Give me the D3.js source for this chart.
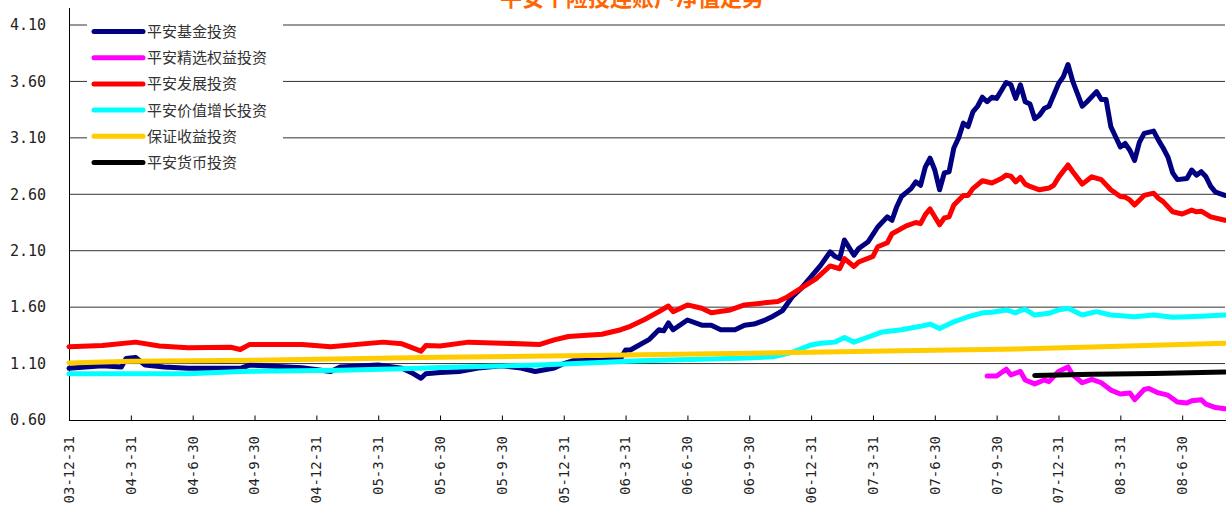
<!DOCTYPE html>
<html lang="zh">
<head>
<meta charset="UTF-8">
<title>平安个险投连账户净值走势</title>
<style>
  body { margin: 0; background: #fff; }
  #chart { display: block; }
  .legend text { font-family: "Noto Sans CJK SC", sans-serif; font-size: 15px; fill: #333; }
  .ylab { font-family: "DejaVu Sans Mono", monospace; font-size: 15px; fill: #222; }
  .xlab { font-family: "DejaVu Sans Mono", monospace; font-size: 14px; fill: #222; }
  .title { font-family: "Noto Sans CJK SC", sans-serif; font-size: 22px; font-weight: bold; fill: #ff6600; }
</style>
</head>
<body>
<svg id="chart"></svg>
<script src="https://d3js.org/d3.v7.min.js"></script>
<script>
// weekly index (0 = 03-12-31), one tick label every 13 weeks
const tickLabels = ["03-12-31","04-3-31","04-6-30","04-9-30","04-12-31","05-3-31","05-6-30","05-9-30",
  "05-12-31","06-3-31","06-6-30","06-9-30","06-12-31","07-3-31","07-6-30","07-9-30","07-12-31","08-3-31","08-6-30"];
const yTicks = [0.6, 1.1, 1.6, 2.1, 2.6, 3.1, 3.6, 4.1];

const seriesNames = ["平安基金投资","平安精选权益投资","平安发展投资","平安价值增长投资","保证收益投资","平安货币投资"];
const seriesColors = ["#000080","#ff00ff","#ff0000","#00ffff","#ffcc00","#000000"];

// [week, nav]
const fundJJ = [[0,1.058],[7,1.08],[11,1.07],[12,1.146],[14,1.155],[16,1.087],[20,1.07],[25,1.058],[36,1.058],
  [38,1.087],[49,1.063],[55,1.03],[57,1.07],[65,1.087],[70,1.058],[72,1.02],[74,0.97],[75,1.01],[78,1.02],
  [82,1.03],[86,1.06],[91,1.08],[95,1.06],[98,1.03],[102,1.06],[104,1.10],[106,1.125],[112,1.13],[116,1.147],
  [117,1.22],[118,1.22],[122,1.315],[124,1.40],[125,1.39],[126,1.46],[127,1.40],[130,1.486],[133,1.44],
  [135,1.44],[137,1.40],[140,1.40],[142,1.44],[144,1.45],[146,1.48],[148,1.52],[150,1.57],[152,1.69],
  [154,1.77],[156,1.87],[158,1.97],[160,2.09],[161,2.05],[162,2.03],[163,2.195],[165,2.06],[166,2.12],
  [168,2.18],[170,2.31],[172,2.40],[173,2.37],[174,2.49],[175,2.58],[177,2.65],[178,2.71],[179,2.68],
  [180,2.84],[181,2.92],[182,2.815],[183,2.64],[184,2.79],[185,2.80],[186,3.01],[187,3.10],[188,3.23],
  [189,3.20],[190,3.33],[191,3.38],[192,3.46],[193,3.42],[194,3.46],[195,3.45],[196,3.52],[197,3.59],
  [198,3.57],[199,3.45],[200,3.57],[201,3.42],[202,3.40],[203,3.27],[204,3.30],[205,3.36],[206,3.38],
  [208,3.58],[209,3.64],[210,3.75],[211,3.60],[212,3.49],[213,3.38],[214,3.42],[216,3.51],[217,3.44],
  [218,3.44],[219,3.20],[220,3.11],[221,3.02],[222,3.05],[223,2.99],[224,2.90],[225,3.06],[226,3.14],
  [228,3.16],[229,3.08],[230,3.01],[231,2.93],[232,2.79],[233,2.73],[235,2.74],[236,2.815],[237,2.77],
  [238,2.80],[239,2.755],[240,2.67],[241,2.62],[243,2.59]];
const fundJX = [[193,0.99],[195,0.99],[197,1.05],[198,1.00],[200,1.03],[201,0.955],[203,0.92],[205,0.955],
  [206,0.94],[208,1.03],[210,1.07],[211,1.00],[213,0.93],[215,0.96],[217,0.93],[219,0.865],[221,0.83],
  [223,0.84],[224,0.78],[226,0.87],[227,0.88],[229,0.84],[231,0.82],[233,0.76],[235,0.75],[236,0.77],
  [238,0.78],[239,0.74],[241,0.71],[243,0.70]];
const fundFZ = [[0,1.25],[7,1.26],[14,1.29],[19,1.255],[25,1.24],[34,1.245],[36,1.225],[38,1.27],[49,1.27],
  [55,1.25],[66,1.29],[70,1.275],[74,1.21],[75,1.26],[78,1.255],[84,1.29],[99,1.27],[102,1.31],[105,1.34],
  [112,1.36],[116,1.40],[118,1.43],[121,1.49],[124,1.56],[126,1.61],[127,1.56],[130,1.62],[133,1.59],
  [135,1.55],[139,1.575],[142,1.62],[149,1.65],[151,1.69],[154,1.77],[157,1.85],[160,1.965],[162,1.94],
  [163,2.03],[165,1.96],[166,2.00],[169,2.05],[170,2.135],[172,2.17],[173,2.25],[176,2.32],[178,2.35],
  [179,2.34],[180,2.42],[181,2.47],[183,2.33],[184,2.39],[185,2.40],[186,2.505],[188,2.59],[189,2.59],
  [190,2.65],[192,2.72],[194,2.70],[196,2.74],[197,2.77],[198,2.76],[199,2.71],[200,2.75],[201,2.69],
  [202,2.67],[204,2.64],[206,2.655],[207,2.68],[208,2.75],[210,2.86],[211,2.80],[213,2.69],[215,2.755],
  [217,2.73],[219,2.64],[221,2.58],[222,2.575],[223,2.55],[224,2.505],[226,2.59],[228,2.61],[229,2.565],
  [230,2.535],[232,2.445],[234,2.425],[236,2.46],[237,2.445],[238,2.45],[240,2.40],[243,2.37]];
const fundJZ = [[0,1.01],[25,1.01],[36,1.03],[57,1.04],[70,1.055],[78,1.065],[99,1.087],[120,1.125],
  [141,1.147],[148,1.16],[152,1.20],[156,1.265],[158,1.28],[161,1.29],[163,1.33],[165,1.29],[167,1.32],
  [171,1.38],[175,1.40],[179,1.43],[181,1.45],[183,1.41],[186,1.47],[189,1.515],[192,1.55],[194,1.555],
  [197,1.575],[199,1.55],[200,1.57],[201,1.58],[203,1.53],[206,1.545],[208,1.575],[210,1.59],[213,1.53],
  [216,1.56],[219,1.53],[224,1.515],[228,1.53],[232,1.51],[238,1.52],[243,1.53]];
const fundBZ = [[0,1.105],[13,1.12],[39,1.13],[78,1.155],[117,1.175],[162,1.205],[175,1.214],[196,1.226],
  [217,1.25],[243,1.28]];
const fundHB = [[203,0.995],[215,1.005],[228,1.012],[243,1.025]];

const seriesData = [fundJJ, fundJX, fundFZ, fundJZ, fundBZ, fundHB];

const width = 1226, height = 505;
const svg = d3.select("#chart").attr("width", width).attr("height", height);

const x = d3.scaleLinear().domain([0, 243]).range([69, 1225]);
const y = d3.scaleLinear().domain([0.6, 4.1]).range([420, 25]);

// gridlines
svg.append("g")
  .selectAll("line")
  .data(yTicks.slice(1))
  .enter().append("line")
  .attr("x1", x(0)).attr("x2", x(243))
  .attr("y1", d => y(d)).attr("y2", d => y(d))
  .attr("stroke", "#333").attr("stroke-width", 1);

// y labels
svg.append("g")
  .selectAll("text")
  .data(yTicks)
  .enter().append("text")
  .attr("class", "ylab")
  .attr("x", 46)
  .attr("y", d => y(d))
  .attr("dy", "0.35em")
  .attr("text-anchor", "end")
  .text(d => d.toFixed(2));

// x axis
const tickWeeks = tickLabels.map((d, i) => i * 13);
const xAxis = d3.axisTop(x).tickValues(tickWeeks).tickSize(5).tickFormat("");
const gx = svg.append("g").attr("transform", "translate(0,420.5)").call(xAxis);
gx.select(".domain").remove();
gx.selectAll(".tick line").attr("stroke", "#000");
svg.append("line").attr("x1", 69).attr("x2", 1226).attr("y1", 420.5).attr("y2", 420.5).attr("stroke", "#000");
svg.append("line").attr("x1", 69.5).attr("x2", 69.5).attr("y1", 8).attr("y2", 421).attr("stroke", "#000");

svg.append("g")
  .selectAll("text")
  .data(tickWeeks)
  .enter().append("text")
  .attr("class", "xlab")
  .attr("transform", d => `translate(${x(d)},436) rotate(-90)`)
  .attr("dy", "0.35em")
  .attr("text-anchor", "end")
  .text((d, i) => tickLabels[i]);

// series
const line = d3.line().x(d => x(d[0])).y(d => y(d[1]));
svg.append("g")
  .selectAll("path")
  .data(seriesData)
  .enter().append("path")
  .attr("d", line)
  .attr("fill", "none")
  .attr("stroke", (d, i) => seriesColors[i])
  .attr("stroke-width", 5)
  .attr("stroke-linejoin", "round")
  .attr("stroke-linecap", "round");

// legend
const legend = svg.append("g").attr("class", "legend");
legend.append("rect").attr("x", 87).attr("y", 15).attr("width", 196).attr("height", 160).attr("fill", "#fff");
seriesNames.forEach((name, i) => {
  const ly = 31.5 + i * 26.2;
  legend.append("line")
    .attr("x1", 94).attr("x2", 143).attr("y1", ly).attr("y2", ly)
    .attr("stroke", seriesColors[i]).attr("stroke-width", 5).attr("stroke-linecap", "round");
  legend.append("text").attr("x", 147).attr("y", ly).attr("dy", "0.36em").text(name);
});

// title (partly cut off at top, as in the original)
svg.append("text").attr("class", "title")
  .attr("x", 632).attr("y", 6)
  .attr("text-anchor", "middle")
  .text("平安个险投连账户净值走势");
</script>
</body>
</html>
